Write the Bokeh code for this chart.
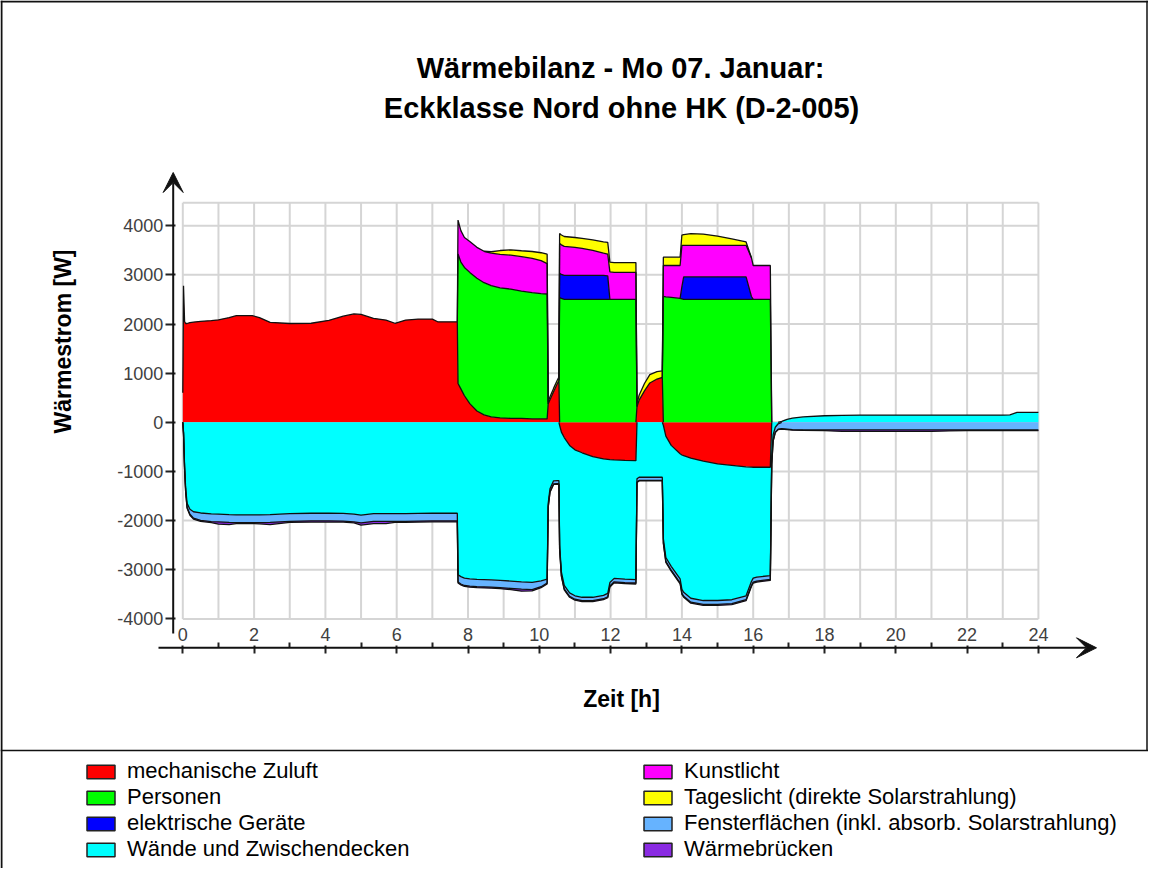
import math
import numpy as np
from bokeh.plotting import figure
from bokeh.models import (Range1d, LinearAxis, FixedTicker, Arrow, VeeHead, Label,
                          Legend, LegendItem, Span)
from bokeh.embed import file_html
from bokeh.resources import INLINE

# ---------------- data ----------------
hours = [
    0.00, 0.02, 0.05, 0.08, 0.12, 0.20, 0.30, 0.50, 0.80, 1.00, 1.30, 1.50, 1.95, 2.15, 2.45,
    3.00, 3.60, 4.10, 4.50, 4.80, 5.00, 5.35, 5.70, 5.95, 6.25, 6.60, 7.00, 7.15, 7.70,
    7.72, 7.80, 7.90, 8.05, 8.25, 8.45, 8.65, 8.90, 9.20, 9.50, 9.80, 10.05, 10.22,
    10.25, 10.30, 10.40, 10.50, 10.55,
    10.57, 10.62, 10.70, 10.85, 11.00, 11.20, 11.50, 11.80, 11.92, 11.98, 12.10, 12.40, 12.71,
    12.74, 12.80, 12.95, 13.10, 13.30, 13.45,
    13.48, 13.55, 13.70, 13.95, 14.00, 14.05, 14.25, 14.60, 15.00, 15.40, 15.80, 15.95, 16.00, 16.10, 16.48,
    16.52, 16.56, 16.62, 16.70, 16.80, 16.95, 17.10, 17.40, 18.00, 18.50, 19.00, 20.00, 21.00, 21.50,
    22.00, 23.00, 23.20, 23.40, 24.00,
]

zuluft = [
    600, 2780, 2050, 2010, 2010, 2030, 2040, 2055, 2070, 2085, 2130, 2170, 2170, 2130, 2035,
    2010, 2015, 2075, 2160, 2205, 2195, 2115, 2080, 2015, 2080, 2100, 2100, 2045, 2045,
    790, 680, 540, 380, 230, 150, 110, 90, 80, 80, 70, 70, 70,
    380, 460, 620, 780, 850,
    -60, -200, -310, -470, -560, -620, -700, -745, -755, -760, -765, -775, -780,
    320, 450, 640, 800, 880, 915,
    -60, -280, -470, -640, -665, -680, -730, -790, -846, -875, -905, -912, -915, -915, -915,
    0, 0, 0, 0, 0, 0, 0, 0, 0, 0, 0, 0, 0, 0,
    0, 0, 0, 0, 0,
]

personen = [
    0, 0, 0, 0, 0, 0, 0, 0, 0, 0, 0, 0, 0, 0, 0,
    0, 0, 0, 0, 0, 0, 0, 0, 0, 0, 0, 0, 0, 0,
    2635, 2580, 2610, 2670, 2700, 2690, 2670, 2645, 2630, 2590, 2570, 2550, 2540,
    0, 0, 0, 0, 0,
    2540, 2520, 2500, 2500, 2500, 2500, 2500, 2500, 2500, 2500, 2500, 2500, 2500,
    0, 0, 0, 0, 0, 0,
    2560, 2550, 2540, 2520, 2510, 2500, 2500, 2500, 2500, 2500, 2500, 2500, 2500, 2500, 2500,
    0, 0, 0, 0, 0, 0, 0, 0, 0, 0, 0, 0, 0, 0,
    0, 0, 0, 0, 0,
]

geraete = [
    0, 0, 0, 0, 0, 0, 0, 0, 0, 0, 0, 0, 0, 0, 0,
    0, 0, 0, 0, 0, 0, 0, 0, 0, 0, 0, 0, 0, 0,
    0, 0, 0, 0, 0, 0, 0, 0, 0, 0, 0, 0, 0,
    0, 0, 0, 0, 0,
    490, 490, 490, 490, 490, 490, 490, 490, 480, 0, 0, 0, 0,
    0, 0, 0, 0, 0, 0,
    0, 0, 0, 0, 250, 460, 460, 460, 460, 460, 460, 60, 0, 0, 0,
    0, 0, 0, 0, 0, 0, 0, 0, 0, 0, 0, 0, 0, 0,
    0, 0, 0, 0, 0,
]

kunstlicht = [
    0, 0, 0, 0, 0, 0, 0, 0, 0, 0, 0, 0, 0, 0, 0,
    0, 0, 0, 0, 0, 0, 0, 0, 0, 0, 0, 0, 0, 0,
    690, 640, 610, 630, 630, 640, 660, 680, 690, 700, 695, 670, 620,
    0, 0, 0, 0, 0,
    610, 600, 590, 580, 570, 550, 510, 450, 440, 560, 550, 550, 550,
    0, 0, 0, 0, 0, 0,
    630, 640, 650, 670, 840, 640, 640, 640, 640, 640, 640, 790, 690, 690, 690,
    0, 0, 0, 0, 0, 0, 0, 0, 0, 0, 0, 0, 0, 0,
    0, 0, 0, 0, 0,
]

tageslicht = [
    0, 0, 0, 0, 0, 0, 0, 0, 0, 0, 0, 0, 0, 0, 0,
    0, 0, 0, 0, 0, 0, 0, 0, 0, 0, 0, 0, 0, 0,
    0, 0, 0, 0, 0, 0, 30, 80, 110, 120, 140, 160, 190,
    40, 60, 70, 70, 70,
    200, 200, 200, 200, 200, 200, 210, 230, 240, 200, 200, 200, 200,
    60, 100, 150, 170, 150, 130,
    170, 170, 170, 170, 210, 220, 240, 230, 190, 130, 70, 0, 0, 0, 0,
    0, 0, 0, 0, 0, 0, 0, 0, 0, 0, 0, 0, 0, 0,
    0, 0, 0, 0, 0,
]

waende = [
    0, -200, -900, -1340, -1650, -1770, -1820, -1845, -1865, -1870, -1880, -1885, -1885, -1885, -1880,
    -1860, -1850, -1850, -1855, -1870, -1890, -1860, -1860, -1860, -1860, -1855, -1850, -1850, -1850,
    -3100, -3140, -3170, -3185, -3195, -3200, -3205, -3215, -3230, -3245, -3255, -3225, -3190,
    -1650, -1350, -1190, -1185, -1185,
    -2440, -2850, -3010, -3000, -2970, -2940, -2860, -2775, -2725, -2500, -2410, -2415, -2420,
    -1150, -1118, -1118, -1118, -1118, -1118,
    -2310, -2470, -2460, -2545, -2735, -2780, -2850, -2836, -2780, -2735, -2625, -2328, -2255, -2235, -2203,
    -700, -250, -100, -30, 20, 60, 85, 110, 133, 140, 147, 147, 147, 147,
    147, 147, 150, 200, 200,
]

fenster = [
    0, -20, -40, -60, -80, -100, -130, -150, -155, -155, -155, -155, -155, -155, -155,
    -155, -155, -155, -155, -155, -155, -155, -155, -155, -155, -155, -155, -155, -155,
    -150, -150, -150, -150, -150, -150, -150, -150, -150, -150, -150, -120, -80,
    -65, -65, -65, -65, -65,
    -70, -70, -70, -70, -70, -70, -70, -70, -70, -70, -70, -70, -70,
    -65, -65, -65, -65, -65, -65,
    -80, -80, -80, -80, -80, -80, -80, -80, -80, -80, -80, -80, -80, -80, -80,
    -150, -120, -100, -110, -130, -140, -150, -155, -155, -155, -155, -155, -155, -155,
    -155, -155, -155, -155, -155,
]

bruecken = [
    0, -10, -15, -20, -20, -20, -20, -20, -20, -45, -45, -20, -20, -25, -45,
    -20, -25, -25, -20, -20, -45, -45, -45, -20, -20, -20, -20, -20, -20,
    -20, -20, -20, -20, -20, -20, -20, -20, -25, -40, -25, -20, -20,
    -10, -10, -10, -10, -10,
    -20, -20, -20, -20, -20, -20, -20, -20, -20, -20, -20, -20, -20,
    -10, -10, -10, -10, -10, -10,
    -20, -20, -20, -20, -20, -20, -20, -20, -20, -20, -20, -20, -20, -20, -20,
    -10, -10, -10, -10, -10, -10, -10, -10, -15, -30, -30, -30, -30, -20,
    -15, -15, -15, -15, -15,
]

series_names = ["mechanische Zuluft", "Personen", "elektrische Geräte", "Kunstlicht",
                "Tageslicht (direkte Solarstrahlung)", "Wände und Zwischendecken",
                "Fensterflächen (inkl. absorb. Solarstrahlung)", "Wärmebrücken"]
series_values = [zuluft, personen, geraete, kunstlicht, tageslicht, waende, fenster, bruecken]
series_colors = ["#ff0000", "#00ff00", "#0000ff", "#ff00ff", "#ffff00", "#00ffff", "#66b3ff", "#8a2be2"]

x_tick_labels = list(range(0, 25, 2))
x_minor_ticks = list(range(1, 24, 2))
y_tick_labels = list(range(-4000, 4001, 1000))

title_lines = ["Wärmebilanz - Mo 07. Januar:", "Eckklasse Nord ohne HK (D-2-005)"]
x_title = "Zeit [h]"
y_title = "Wärmestrom [W]"

# ---------------- geometry ----------------
W, H = 1148, 868
PX_PER_H = 35.65
PX_PER_W = 0.04915
X0 = 182.3   # canvas x of 0 h
Y0 = 421.8   # canvas y of 0 W


def hx(px):
    return (px - X0) / PX_PER_H


def wy(py):
    return (Y0 - py) / PX_PER_W


p = figure(width=W, height=H, x_range=Range1d(hx(0), hx(W)), y_range=Range1d(wy(H), wy(0)),
           x_axis_type=None, y_axis_type=None, toolbar_location=None, output_backend="svg",
           min_border=0, min_border_left=0, min_border_right=0, min_border_top=0, min_border_bottom=0,
           outline_line_color=None, background_fill_color="white", border_fill_color="white")

# grid
grid_top = 4466
hour_lines = list(range(0, 25))
p.segment(x0=hour_lines, y0=[-4000] * len(hour_lines), x1=hour_lines, y1=[grid_top] * len(hour_lines),
          line_color="#d5d5d5", line_width=2)
w_lines = y_tick_labels + [grid_top]
p.segment(x0=[0] * len(w_lines), y0=w_lines, x1=[24] * len(w_lines), y1=w_lines,
          line_color="#d5d5d5", line_width=2)

# stacked areas
T = np.array(hours, dtype=float)
pos_base = np.zeros_like(T)
neg_base = np.zeros_like(T)
outline_data = []


def mask_outline(edge, thick):
    nz = thick != 0
    keep = nz.copy()
    keep[1:] |= nz[:-1]
    keep[:-1] |= nz[1:]
    out = edge.astype(float).copy()
    out[~keep] = np.nan
    return out


for vals, col in zip(series_values, series_colors):
    v = np.array(vals, dtype=float)
    pv = np.clip(v, 0, None)
    nv = np.clip(v, None, 0)
    if pv.any():
        p.varea(x=T, y1=pos_base.copy(), y2=pos_base + pv, fill_color=col)
        outline_data.append(mask_outline(pos_base + pv, pv))
    if nv.any():
        p.varea(x=T, y1=neg_base.copy(), y2=neg_base + nv, fill_color=col)
        outline_data.append(mask_outline(neg_base + nv, nv))
    pos_base = pos_base + pv
    neg_base = neg_base + nv

for edge in outline_data:
    p.line(x=T, y=edge, line_color="#111111", line_width=1.3)

# axes
AX_X = 172.7
AX_Y = 647.3
yaxis = LinearAxis(ticker=FixedTicker(ticks=y_tick_labels), fixed_location=hx(AX_X),
                   axis_line_color=None, major_tick_out=8, major_tick_in=2,
                   minor_tick_out=0, minor_tick_in=0,
                   major_tick_line_color="#222222", major_tick_line_width=2,
                   major_label_standoff=2, major_label_text_font="Liberation Sans",
                   major_label_text_font_size="18px", major_label_text_color="#404040",
                   major_label_overrides={t: str(t) for t in y_tick_labels})
p.add_layout(yaxis, "left")

xaxis = LinearAxis(ticker=FixedTicker(ticks=x_tick_labels, minor_ticks=x_minor_ticks),
                   fixed_location=wy(AX_Y), axis_line_color=None,
                   major_tick_out=2, major_tick_in=6, minor_tick_out=5, minor_tick_in=0,
                   major_tick_line_color="#222222", major_tick_line_width=2,
                   minor_tick_line_color="#222222", minor_tick_line_width=2,
                   major_label_standoff=2, major_label_text_font="Liberation Sans",
                   major_label_text_font_size="18px", major_label_text_color="#404040",
                   major_label_overrides={t: str(t) for t in x_tick_labels})
p.add_layout(xaxis, "above")

p.add_layout(Arrow(end=VeeHead(size=20, fill_color="#111111", line_color="#111111"),
                   x_start=hx(AX_X), y_start=wy(633), x_end=hx(AX_X), y_end=wy(172),
                   line_color="#111111", line_width=2))
p.add_layout(Arrow(end=VeeHead(size=20, fill_color="#111111", line_color="#111111"),
                   x_start=hx(158), y_start=wy(AX_Y), x_end=hx(1096), y_end=wy(AX_Y),
                   line_color="#111111", line_width=2))

# titles
p.add_layout(Label(x=hx(620), y=wy(67), text=title_lines[0], text_font="Liberation Sans",
                   text_font_style="bold", text_font_size="29px", text_align="center",
                   text_baseline="middle", text_color="black"))
p.add_layout(Label(x=hx(621), y=wy(107), text=title_lines[1], text_font="Liberation Sans",
                   text_font_style="bold", text_font_size="29px", text_align="center",
                   text_baseline="middle", text_color="black"))
p.add_layout(Label(x=hx(621), y=wy(698), text=x_title, text_font="Liberation Sans",
                   text_font_style="bold", text_font_size="23px", text_align="center",
                   text_baseline="middle", text_color="black"))
p.add_layout(Label(x=hx(62), y=wy(341), text=y_title, text_font="Liberation Sans",
                   text_font_style="bold", text_font_size="23px", text_align="center",
                   text_baseline="middle", text_color="black", angle=math.pi / 2))

# frame lines of the picture
p.add_layout(Span(location=wy(750), dimension="width", line_color="#111111", line_width=1.5))
p.add_layout(Span(location=hx(1), dimension="height", line_color="#111111", line_width=2))
p.add_layout(Span(location=wy(1), dimension="width", line_color="#111111", line_width=2))
p.segment(x0=[hx(1146.5)], y0=[wy(750)], x1=[hx(1146.5)], y1=[wy(0)], line_color="#111111", line_width=1.5)

# legends (swatch proxies, one point each, far outside the visible range)
proxies = [p.rect(x=[hx(-3000)], y=[0], width=1, height=1, fill_color=c,
                  line_color="#222222", line_width=1.5)
           for c in series_colors]
order_left = [0, 1, 2, 5]
order_right = [3, 4, 6, 7]


def make_legend(idx, loc):
    lg = Legend(items=[LegendItem(label=series_names[i], renderers=[proxies[i]]) for i in idx],
                location=loc, orientation="vertical", background_fill_alpha=0,
                border_line_alpha=0, padding=0, margin=0, spacing=0,
                glyph_width=35, glyph_height=17, label_height=25, label_standoff=9,
                label_text_font="Liberation Sans", label_text_font_size="22px",
                label_text_color="black")
    p.add_layout(lg, "center")


make_legend(order_left, (83, 6))
make_legend(order_right, (640, 6))

open("out.html", "w", encoding="utf-8").write(file_html(p, INLINE))
